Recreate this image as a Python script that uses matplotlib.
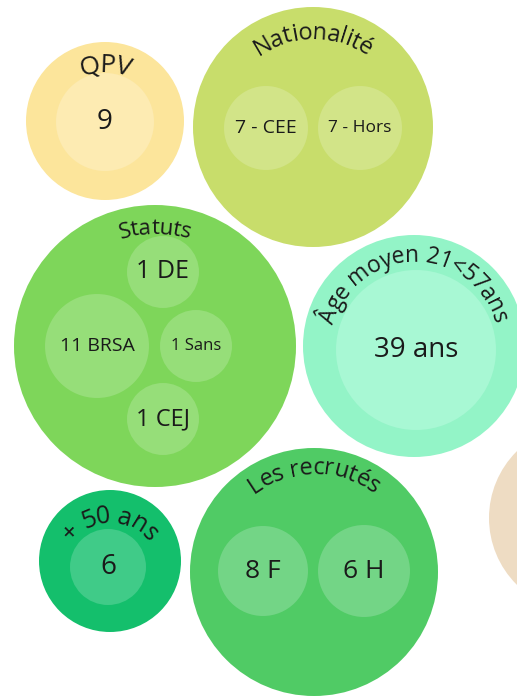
import numpy as np
import matplotlib.pyplot as plt
from matplotlib.patches import Circle
from matplotlib.font_manager import FontProperties

plt.rcParams['font.family'] = ['Open Sans', 'DejaVu Sans']

# data
groups = ["QPV", "Nationalité", "Statuts", "Âge moyen 21<57ans", "+ 50 ans", "Les recrutés"]
qpv_labels = ["9"]
nat_labels = ["7 - CEE", "7 - Hors"]
statut_labels = ["1 DE", "11 BRSA", "1 Sans", "1 CEJ"]
age_labels = ["39 ans"]
plus50_labels = ["6"]
recrutes_labels = ["8 F", "6 H"]
children = [qpv_labels, nat_labels, statut_labels, age_labels, plus50_labels, recrutes_labels]

# layout in pixels (x, y from top): outer circle
outer = [(105, 121, 79), (313, 127, 120), (155, 346, 141),
         (414, 346, 111), (110, 561, 71), (314, 572, 124)]
# title arc: baseline y at the top, arc radius, font size, letter tracking
title_top = [72, 39, 234, 262, 523, 474]
title_r = [60, 92, 113, 83, 48, 100]
title_size = [19, 17, 16, 16.5, 18, 17]
title_track = [0.9, 0.95, 0.95, 0.96, 0.92, 0.95]
# inner circles: (x, y, r, fontsize)
inner = [
    [(105, 122, 49, 20)],
    [(266, 128, 42, 14), (360, 128, 42, 12.5)],
    [(163, 272, 36, 18), (97, 346, 52, 14), (196, 346, 36, 12), (163, 419, 36, 17)],
    [(416, 350, 80, 20)],
    [(108, 567, 38, 20)],
    [(263, 571, 45, 19), (364, 571, 46, 19)],
]
outer_col = ["#fce59b", "#c8dd6b", "#7ed65a", "#93f4c7", "#14bf6c", "#50cb65"]
inner_col = ["#fdebb2", "#d2e488", "#96de79", "#a8f8d4", "#40cb88", "#73d586"]

W, H = 517, 697
fig = plt.figure(figsize=(W / 100, H / 100), dpi=100)
ax = fig.add_axes([0, 0, 1, 1])
ax.set_xlim(0, W)
ax.set_ylim(H, 0)
ax.axis('off')
renderer = fig.canvas.get_renderer()


def text_w(s, size):
    prop = FontProperties(family=['Open Sans', 'DejaVu Sans'], size=size)
    w, h, d = renderer.get_text_width_height_descent(s, prop, ismath=False)
    return w


def arc_text(s, cx, top, R, size, track):
    # chars along an arc whose top point is (cx, top)
    cy = top + R
    base = text_w("I", size)
    starts = [(text_w(s[:i] + "I", size) - base) * track for i in range(len(s) + 1)]
    total = starts[-1]
    for i, ch in enumerate(s):
        if ch == " ":
            continue
        mid = (starts[i] + starts[i + 1]) / 2 - total / 2
        th = mid / R
        x = cx + R * np.sin(th)
        y = cy - R * np.cos(th)
        ax.text(x, y, ch, fontsize=size, color="#1a1a1a", ha="center", va="baseline",
                rotation=-np.degrees(th), rotation_mode="anchor")


# beige circle cut off at the right edge
ax.add_patch(Circle((583, 518), 94, color="#eedcc3", lw=0))

for g, name in enumerate(groups):
    cx, cy, r = outer[g]
    ax.add_patch(Circle((cx, cy), r, color=outer_col[g], lw=0))
    for lab, (x, y, ri, fs) in zip(children[g], inner[g]):
        ax.add_patch(Circle((x, y), ri, color=inner_col[g], lw=0))
        ax.text(x, y, lab, fontsize=fs, color="#1a1a1a", ha="center", va="center")
    arc_text(name, cx, title_top[g], title_r[g], title_size[g], title_track[g])

fig.savefig("out.png", dpi=100)
